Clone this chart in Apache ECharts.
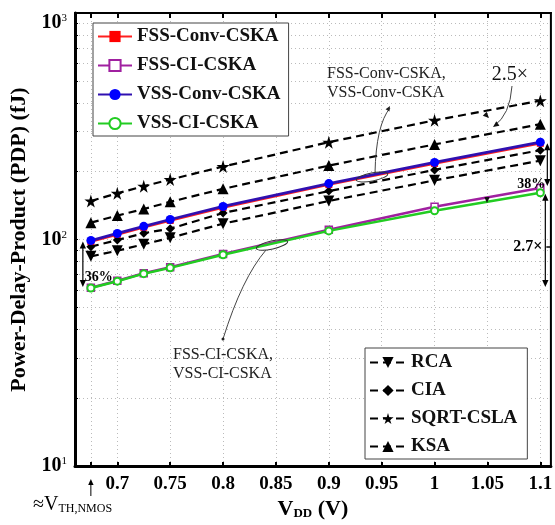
<!DOCTYPE html>
<html><head><meta charset="utf-8">
<script src="https://cdn.jsdelivr.net/npm/echarts@6/dist/echarts.min.js"></script>
<style>html,body{margin:0;padding:0;background:#fff}#c{width:555px;height:525px}</style>
</head><body><div id="c"></div>
<script>
// ---- data ----
const vdd = [0.675, 0.7, 0.725, 0.75, 0.8, 0.9, 1.0, 1.1];
const fssConv = [98, 105.3, 113.3, 121.4, 138.6, 174.8, 216.8, 266];
const fssCI = [61.3, 65.8, 71, 75.4, 86.3, 110.5, 139.5, 169];
const vssConv = [99, 106.4, 114.4, 122.6, 140, 176.6, 219, 269];
const vssCI = [61.1, 65.5, 70.7, 75, 85.7, 109.2, 134, 161];
const rca = [84.3, 89.2, 95.3, 101.8, 117.5, 148, 182.5, 223];
const cia = [93, 99.5, 106.7, 111.7, 131, 163.6, 203, 248];
const sqrtCsla = [148, 160, 172, 184, 210, 269, 336, 410];
const ksa = [118.7, 127.6, 136.4, 146.7, 167.4, 212, 263, 323];
const xTickValues = [0.675, 0.7, 0.75, 0.8, 0.85, 0.9, 0.95, 1, 1.05, 1.1];
const xLabelValues = [0.7, 0.75, 0.8, 0.85, 0.9, 0.95, 1, 1.05, 1.1];
const yTickValues = [10,20,30,40,50,60,70,80,90,100,200,300,400,500,600,700,800,900,1000];
const yLabelValues = [10, 100, 1000];

const SERIF = '"Liberation Serif","Times New Roman",serif';
const STAR = 'path://M50,0 L61,35 L98,35 L68,57 L79,91 L50,70 L21,91 L32,57 L2,35 L39,35 Z';
const zip = a => vdd.map((x, i) => [x, a[i]]);

const chart = echarts.init(document.getElementById('c'), null, {renderer: 'canvas'});

function dashed(name, data, symbol, size, rot) {
  return {
    name, type: 'line', data: zip(data), symbol, symbolSize: size, symbolRotate: rot || 0,
    lineStyle: {color: '#000', width: 2.2, type: [8, 5]},
    itemStyle: {color: '#000'}, z: 2
  };
}

const legendText = {fontFamily: SERIF, fontWeight: 'bold', fontSize: 19, color: '#111', lineHeight: 18};
const option = {
  animation: false,
  backgroundColor: '#fff',
  grid: {left: 66, right: 2, top: 13, bottom: 49, show: true, borderColor: '#000', borderWidth: 2},
  xAxis: [{
    type: 'value', min: 0.66, max: 1.11, position: 'bottom',
    axisLine: {show: true, lineStyle: {color: '#000', width: 3}},
    axisTick: {show: true, inside: true, length: 4, customValues: xTickValues, lineStyle: {color: '#000', width: 2}},
    axisLabel: {customValues: xLabelValues, color: '#000', fontFamily: SERIF, fontWeight: 'bold', fontSize: 19, margin: 8,
      formatter: v => String(+(+v).toFixed(2))},
    splitLine: {show: true, lineStyle: {color: '#bbb', type: [1, 3], width: 1}},
    name: '{v|V}{d|DD}{v| (V)}', nameLocation: 'middle', nameGap: 30,
    nameTextStyle: {rich: {
      v: {fontFamily: SERIF, fontWeight: 'bold', fontSize: 22, color: '#000', lineHeight: 22},
      d: {fontFamily: SERIF, fontWeight: 'bold', fontSize: 13, color: '#000', lineHeight: 12, verticalAlign: 'bottom'}
    }}
  }, {
    type: 'value', min: 0.66, max: 1.11, position: 'top',
    axisLine: {show: true, lineStyle: {color: '#000', width: 2}},
    axisTick: {show: true, inside: true, length: 5, customValues: xTickValues, lineStyle: {color: '#000', width: 2}},
    axisLabel: {show: false}, splitLine: {show: false}
  }],
  yAxis: [{
    type: 'log', logBase: 10, min: 10, max: 1000,
    axisLine: {show: true, lineStyle: {color: '#000', width: 3}},
    axisTick: {show: true, inside: true, length: 3, customValues: yTickValues, lineStyle: {color: '#000'}},
    axisLabel: {customValues: yLabelValues, margin: 8, verticalAlignMaxLabel: 'top',
      formatter: v => '{b|10}{s|' + Math.round(Math.log10(v)) + '}',
      rich: {
        b: {fontFamily: SERIF, fontWeight: 'bold', fontSize: 20, color: '#000', lineHeight: 20},
        s: {fontFamily: SERIF, fontSize: 11, color: '#000', lineHeight: 11, verticalAlign: 'top'}
      }},
    splitLine: {show: true, lineStyle: {color: '#bbb', type: [1, 3], width: 1}},
    name: 'Power-Delay-Product (PDP) (fJ)', nameLocation: 'middle', nameGap: 45,
    nameTextStyle: {fontFamily: SERIF, fontWeight: 'bold', fontSize: 22, color: '#000'}
  }],
  legend: [{
    data: ['FSS-Conv-CSKA', 'FSS-CI-CSKA', 'VSS-Conv-CSKA', 'VSS-CI-CSKA'],
    orient: 'vertical', left: 93, top: 23, padding: [4, 8, 3, 4], itemGap: 10,
    itemWidth: 34, itemHeight: 14,
    borderColor: '#444', borderWidth: 1, backgroundColor: '#fff', borderRadius: 0,
    textStyle: legendText
  }, {
    data: ['RCA', 'CIA', 'SQRT-CSLA', 'KSA'],
    orient: 'vertical', left: 365, top: 348, padding: [5, 10, 3, 4], itemGap: 9,
    itemWidth: 36, itemHeight: 14,
    borderColor: '#444', borderWidth: 1, backgroundColor: '#fff', borderRadius: 0,
    textStyle: legendText
  }],
  series: [
    dashed('RCA', rca, 'triangle', 11, 180),
    dashed('CIA', cia, 'diamond', 9),
    dashed('SQRT-CSLA', sqrtCsla, STAR, 13),
    dashed('KSA', ksa, 'triangle', 11),
    {name: 'FSS-Conv-CSKA', type: 'line', data: zip(fssConv), symbol: 'rect', symbolSize: 7,
      lineStyle: {color: '#ff2020', width: 2.5}, itemStyle: {color: '#ff0000'}, z: 3},
    {name: 'VSS-Conv-CSKA', type: 'line', data: zip(vssConv), symbol: 'circle', symbolSize: 9,
      lineStyle: {color: '#3010b0', width: 2.8}, itemStyle: {color: '#0000ff'}, z: 4},
    {name: 'FSS-CI-CSKA', type: 'line', data: zip(fssCI), symbol: 'rect', symbolSize: 7,
      lineStyle: {color: '#a020a0', width: 2.5}, itemStyle: {color: '#fff', borderColor: '#a020a0', borderWidth: 1.5}, z: 3},
    {name: 'VSS-CI-CSKA', type: 'line', data: zip(vssCI), symbol: 'circle', symbolSize: 7,
      lineStyle: {color: '#22cc22', width: 2.5}, itemStyle: {color: '#fff', borderColor: '#22cc22', borderWidth: 2}, z: 4}
  ]
};
chart.setOption(option);

// ---- annotations ----
const px = (x, y) => chart.convertToPixel({xAxisIndex: 0, yAxisIndex: 0}, [x, y]);
function head(tip, from, size, color) {
  const dx = tip[0] - from[0], dy = tip[1] - from[1];
  const L = Math.hypot(dx, dy) || 1, ux = dx / L, uy = dy / L;
  const bx = tip[0] - ux * size, by = tip[1] - uy * size;
  const w = size * 0.45;
  return {type: 'polygon', shape: {points: [tip, [bx - uy * w, by + ux * w], [bx + uy * w, by - ux * w]]},
    style: {fill: color || '#000'}, z: 50};
}
function dblArrow(x, y1, y2) {
  return [
    {type: 'line', shape: {x1: x, y1: y1 + 5, x2: x, y2: y2 - 5}, style: {stroke: '#000', lineWidth: 1.2}, z: 50},
    head([x, y1], [x, y1 + 10], 7), head([x, y2], [x, y2 - 10], 7)
  ];
}
const last = vdd.length - 1;
const pConv0 = px(vdd[0], vssConv[0]), pCI0 = px(vdd[0], vssCI[0]);
const pConvL = px(vdd[last], vssConv[last]), pFciL = px(vdd[last], fssCI[last]), pCIL = px(vdd[last], vssCI[last]);
const txt = (x, y, text, font, align, color) => ({type: 'text', x, y, z: 60,
  style: {text, font, fill: color || '#000', align: align || 'left', verticalAlign: 'middle'}});
const g = [];
g.push(...dblArrow(pConv0[0] - 8, pConv0[1] + 1, pCI0[1] - 1));
g.push(txt(pConv0[0] - 6, 277, '36%', 'bold 14px ' + SERIF));
g.push(...dblArrow(pConvL[0] + 7, pConvL[1] + 1, pFciL[1] - 2));
g.push(txt(pConvL[0] + 5, 184, '38%', 'bold 14px ' + SERIF, 'right'));
g.push(...dblArrow(pCIL[0] + 5, pCIL[1] + 1, pCI0[1] - 1));
g.push({type: 'rect', shape: {x: pCIL[0] - 30, y: 237, width: 33, height: 20}, style: {fill: '#fff'}, z: 55});
g.push(txt(pCIL[0] + 2, 247, '2.7×', 'bold 16px ' + SERIF, 'right'));
g.push({type: 'line', shape: {x1: pCIL[0] + 6, y1: 247, x2: pCIL[0] + 11, y2: 247}, style: {stroke: '#000', lineWidth: 1.5}, z: 55});
// Conv label
g.push(txt(327, 74, 'FSS-Conv-CSKA,', '16px ' + SERIF, 'left', '#222'));
g.push(txt(327, 93, 'VSS-Conv-CSKA', '16px ' + SERIF, 'left', '#222'));
g.push({type: 'ellipse', x: 372, y: 177, rotation: 0.19, shape: {cx: 0, cy: 0, rx: 16, ry: 4},
  style: {fill: 'none', stroke: '#333', lineWidth: 1}, z: 50});
g.push({type: 'bezierCurve', shape: {x1: 375, y1: 173, x2: 390, y2: 108, cpx1: 376, cpy1: 125}, style: {stroke: '#444', lineWidth: 1, fill: 'none'}, z: 50});
g.push(head([390, 106], [386, 113], 5, '#222'));
// CI label
g.push(txt(173, 355, 'FSS-CI-CSKA,', '16px ' + SERIF, 'left', '#222'));
g.push(txt(173, 374, 'VSS-CI-CSKA', '16px ' + SERIF, 'left', '#222'));
g.push({type: 'ellipse', x: 272, y: 245, rotation: 0.22, shape: {cx: 0, cy: 0, rx: 16, ry: 4},
  style: {fill: 'none', stroke: '#333', lineWidth: 1}, z: 50});
g.push({type: 'bezierCurve', shape: {x1: 223, y1: 339, x2: 266, y2: 250, cpx1: 242, cpy1: 278}, style: {stroke: '#444', lineWidth: 1, fill: 'none'}, z: 50});
g.push({type: 'circle', shape: {cx: 223, cy: 339, r: 1.5}, style: {fill: '#222'}, z: 50});
// 2.5x
g.push(txt(510, 75, '2.5×', '20px ' + SERIF, 'center', '#111'));
g.push({type: 'bezierCurve', shape: {x1: 512, y1: 86, x2: 494, y2: 126, cpx1: 510, cpy1: 115}, style: {stroke: '#444', lineWidth: 1, fill: 'none'}, z: 50});
g.push(head([493, 127], [500, 122], 6, '#111'));
g.push(head([489, 118], [483, 112], 6, '#111'));
g.push(head([487, 203], [487, 196], 6, '#111'));
// Vth label
const pv = px(vdd[0], 10);
g.push({type: 'line', shape: {x1: pv[0], y1: 496, x2: pv[0], y2: 484}, style: {stroke: '#000', lineWidth: 1}, z: 50});
g.push(head([pv[0], 479], [pv[0], 490], 6));
g.push({type: 'text', x: 33, y: 505, z: 60, style: {
  text: '{a|≈V}{b|TH,NMOS}', verticalAlign: 'middle',
  rich: {a: {font: '20px ' + SERIF, fill: '#000', lineHeight: 20},
         b: {font: '12px ' + SERIF, fill: '#000', lineHeight: 11, verticalAlign: 'bottom'}}}});
chart.setOption({graphic: g});
</script></body></html>
